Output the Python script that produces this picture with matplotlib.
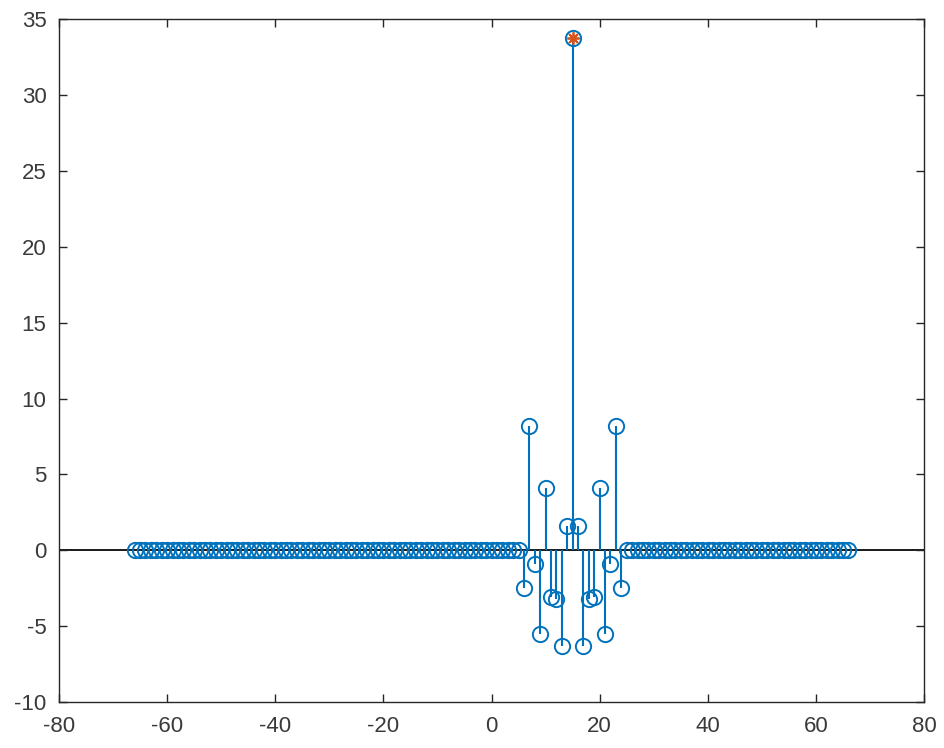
import numpy as np
import matplotlib
matplotlib.use("Agg")
import matplotlib.pyplot as plt

# Data
n = list(range(-66, 67))
nonzero_idx = list(range(6, 25))
nonzero_vals = [-2.5, 8.2, -0.9, -5.5, 4.1, -3.05, -3.2, -6.34, 1.6, 33.8,
                1.6, -6.34, -3.2, -3.05, 4.1, -5.5, -0.9, 8.2, -2.5]
peak_x = [15]
peak_y = [33.8]
x_ticks = [-80, -60, -40, -20, 0, 20, 40, 60, 80]
y_ticks = [-10, -5, 0, 5, 10, 15, 20, 25, 30, 35]

vals = dict(zip(nonzero_idx, nonzero_vals))
y = [vals.get(k, 0.0) for k in n]

blue = '#0072BD'
orange = '#D95319'
axcol = '#262626'

plt.rcParams['font.family'] = ['Liberation Sans', 'DejaVu Sans']
plt.rcParams['axes.unicode_minus'] = False
fig = plt.figure(figsize=(9.45, 7.48), dpi=100)
ax = fig.add_axes([0.0624, 0.0615, 0.9155, 0.9125])

ax.axhline(0, color='#1a1a1a', lw=1.4, zorder=1)
ml, sl, bl = ax.stem(n, y, basefmt=' ')
plt.setp(sl, color=blue, lw=1.5)
plt.setp(ml, marker='o', markersize=11, markerfacecolor='none',
         markeredgecolor=blue, markeredgewidth=1.4)
ax.plot(peak_x, peak_y, marker=(8, 2, 0), color=orange, markersize=9, linestyle='none',
        markeredgewidth=1.3, zorder=5)

ax.set_xlim(-80, 80)
ax.set_ylim(-10, 35)
ax.set_xticks(x_ticks)
ax.set_yticks(y_ticks)
ax.tick_params(direction='in', length=6, width=1, top=True, right=True,
               labelsize=16, colors=axcol)
ax.tick_params(axis='x', pad=10)
ax.tick_params(axis='y', pad=9)
for lbl in ax.get_xticklabels() + ax.get_yticklabels():
    lbl.set_color('#3a3a3a')
for s in ax.spines.values():
    s.set_color(axcol)
    s.set_linewidth(1)

fig.savefig('out.png', dpi=100)
